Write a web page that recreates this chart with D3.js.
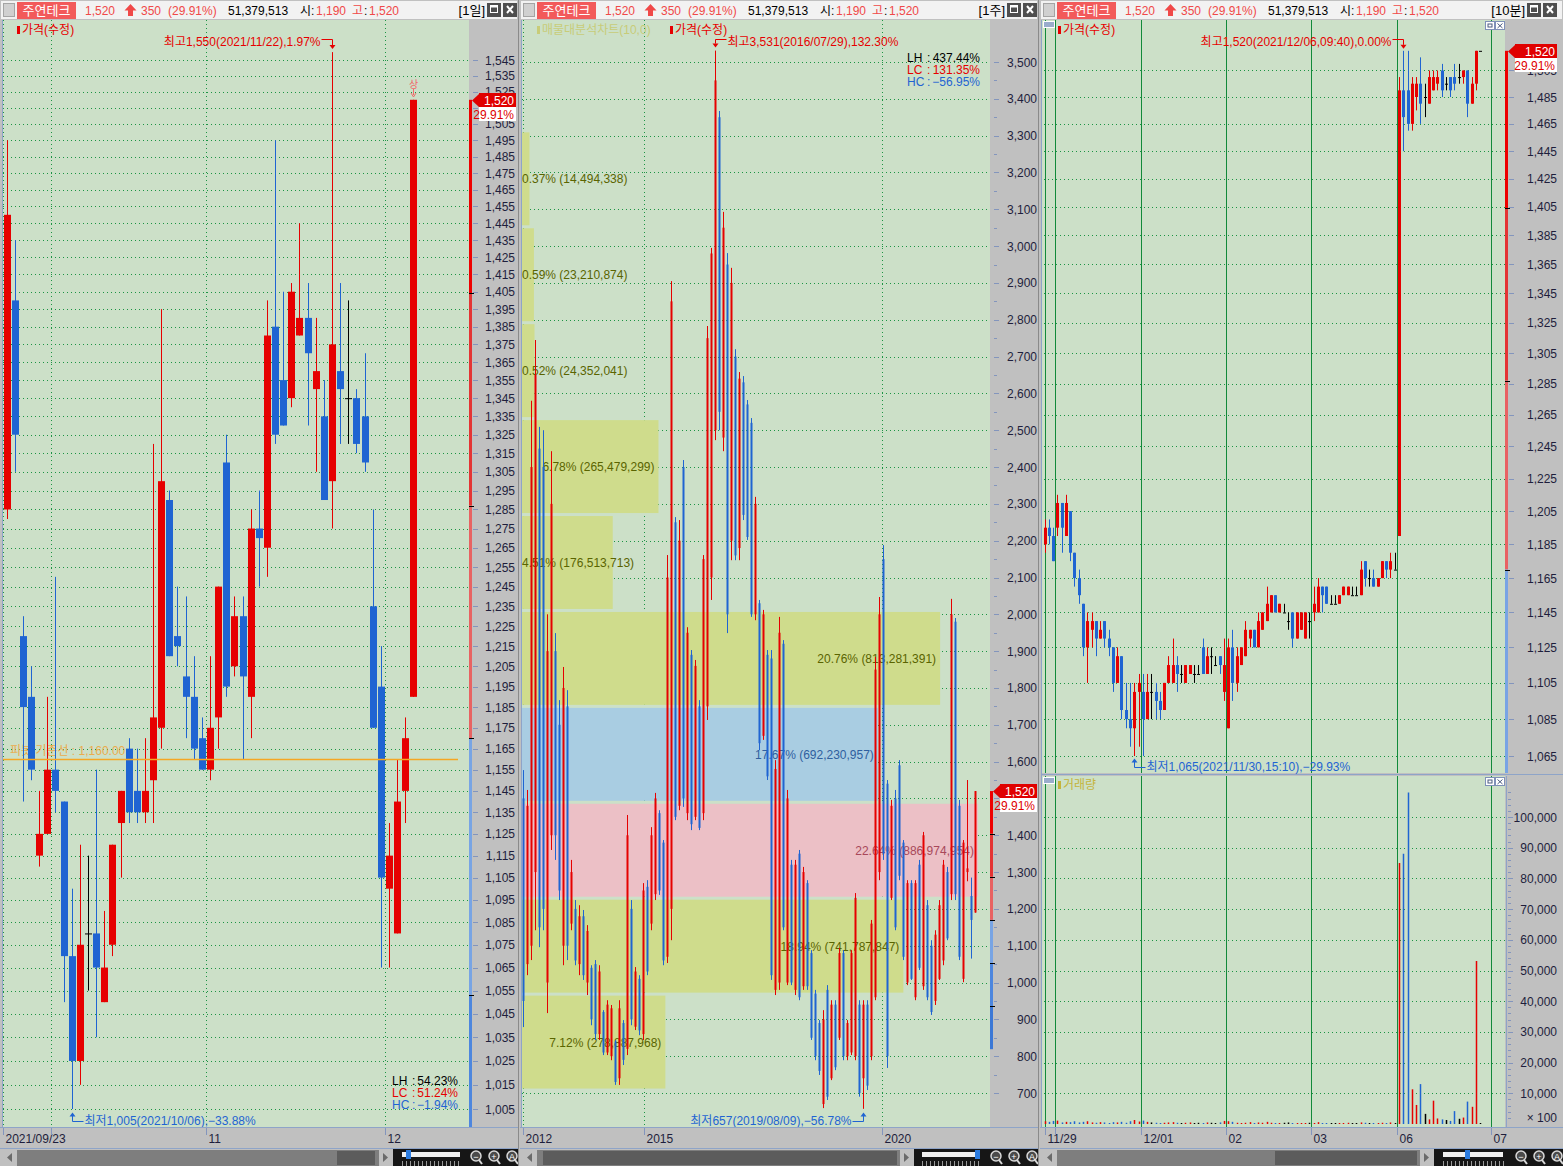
<!DOCTYPE html>
<html><head><meta charset="utf-8">
<script src="https://cdn.jsdelivr.net/npm/d3@7/dist/d3.min.js"></script>
<style>
html,body{margin:0;padding:0;background:#c0c0c0;}
svg{display:block;}
text{font-family:"Liberation Sans","Noto Sans CJK KR",sans-serif;font-size:12px;}
</style></head><body>
<svg id="chart" width="1563" height="1166"></svg>
<script>
// ================= DATA =================
const stockName = "주연테크";
const lastPrice = 1520;
const priceChange = 350;
const changePct = 29.91;
const tradeVolume = "51,379,513";
const dayOpen = 1190;
const dayHigh = 1520;
const prevClose = 1170;
const pivotLevel = 1160;

// ---- daily (1일) ----
const dailyDates = ["2021/09/23","2021/09/24","2021/09/27","2021/09/28","2021/09/29","2021/09/30","2021/10/01","2021/10/05","2021/10/06","2021/10/07","2021/10/08","2021/10/12","2021/10/13","2021/10/14","2021/10/15","2021/10/18","2021/10/19","2021/10/20","2021/10/21","2021/10/22","2021/10/25","2021/10/26","2021/10/27","2021/10/28","2021/10/29","2021/11/01","2021/11/02","2021/11/03","2021/11/04","2021/11/05","2021/11/08","2021/11/09","2021/11/10","2021/11/11","2021/11/12","2021/11/15","2021/11/16","2021/11/17","2021/11/18","2021/11/19","2021/11/22","2021/11/23","2021/11/24","2021/11/25","2021/11/26","2021/11/29","2021/11/30","2021/12/01","2021/12/02","2021/12/03","2021/12/06"];
const dailyOpen  = [1285,1400,1220,1190,1115,1125,1155,1140,1070,1025,1080,1080,1050,1075,1130,1165,1145,1135,1150,1175,1290,1220,1200,1190,1170,1155,1180,1310,1205,1230,1190,1275,1265,1385,1355,1345,1380,1390,1350,1335,1300,1360,1345,1345,1335,1235,1195,1100,1080,1145,1190];
const dailyHigh  = [1495,1435,1230,1205,1145,1190,1250,1140,1100,1120,1115,1155,1090,1120,1145,1170,1165,1170,1320,1395,1295,1245,1240,1210,1180,1210,1245,1325,1240,1240,1285,1295,1400,1495,1405,1410,1445,1410,1390,1355,1550,1410,1400,1350,1370,1285,1215,1130,1160,1180,1520];
const dailyLow   = [1280,1305,1140,1150,1110,1125,1135,1050,1005,1015,1055,1035,1050,1070,1105,1130,1130,1130,1130,1165,1210,1205,1170,1160,1155,1150,1165,1190,1200,1160,1170,1245,1250,1320,1330,1340,1380,1330,1305,1290,1275,1320,1320,1315,1305,1175,1065,1065,1080,1130,1190];
const dailyClose = [1450,1325,1185,1155,1125,1155,1145,1070,1025,1075,1080,1065,1065,1120,1145,1135,1135,1145,1180,1300,1210,1215,1190,1165,1155,1175,1245,1195,1230,1200,1275,1270,1380,1325,1330,1405,1390,1370,1360,1290,1375,1350,1345,1320,1310,1175,1105,1115,1140,1170,1520];
const dailyTicks = [1545,1535,1525,1515,1505,1495,1485,1475,1465,1455,1445,1435,1425,1415,1405,1395,1385,1375,1365,1355,1345,1335,1325,1315,1305,1295,1285,1275,1265,1255,1245,1235,1225,1215,1205,1195,1185,1175,1165,1155,1145,1135,1125,1115,1105,1095,1085,1075,1065,1055,1045,1035,1025,1015,1005];
const dailyMonthMarks = [{at:-0.5,label:"2021/09/23"},{at:5.5,label:""},{at:24.5,label:"11"},{at:46.5,label:"12"}];

// ---- weekly (1주) at ~4px steps ----
const weeklyOpen  = [1500,1050,1100,1300,2450,2400,1000,1400,1900,1700, 1100,1750,1160,1200,1050,1180,1000,1040,1050,860, 920,810,800,840,740,890,820,1200,880,1010, 860,1260,1160,1240,1460,1380,1070,1200,2250,1480, 2400,1460,1890,1450,1750,1460,1750,2100,2500,3350, 2480,2950,2200,2700,2180,2630,2570,2520,2000,2030, 1670,1890,1880,980,1000,1920,1000,1320,980,1350, 990,1270,1080,970,890,670,980,740,940,850, 1080,800,810,800,940,740,940,800,960,1300, 2150,1540,1230,1500,1590,1380,1000,1270,960,1320, 990,1210,1100,950,1010,1060,1300,1240,1980,1480, 1010,1300,1235,1190];
const weeklyHigh  = [1577,1523,2580,2745,2509,2500,2000,2443,1949,1767, 1857,1794,1333,1224,1210,1197,1156,1047,1061,1047, 925,952,939,844,952,898,1455,1224,1042,1020, 1270,1278,1422,1515,1468,1387,2161,2905,2264,2256, 2419,1965,1903,1876,1767,2161,2783,2995,3531,3367, 3093,2981,2941,2720,2658,2647,2582,2533,2319,2039, 2012,1903,1903,1604,1993,1930,1523,1333,1333,1360, 1314,1278,1088,980,898,925,993,952,952,1094, 1088,898,1088,1243,952,952,952,1170,1884,2047, 2188,1550,1496,1523,1604,1387,1278,1278,1278,1333, 1409,1224,1115,1142,1224,1333,1314,2042,1990,1496, 1387,1550,1285,1520];
const weeklyLow   = [879,1020,1061,1142,1096,1142,917,1360,1333,1224, 1047,1061,1142,1047,1020,1007,966,884,844,844, 803,803,789,722,722,776,803,884,871,857, 844,1020,1142,1224,1238,1047,1053,1115,1441,1468, 1477,1441,1414,1441,1414,1441,1713,2039,2473,2500, 2443,1949,2147,2147,2147,2256,2202,1993,1984,1631, 1659,1550,1007,966,980,1142,993,993,966,952, 980,980,844,789,749,659,681,735,762,844, 789,789,803,789,690,657,708,789,952,1278, 1333,768,1224,1142,1278,1061,993,1007,952,1034, 980,952,912,939,1007,1047,1115,1224,1224,1061, 1001,1275,1065,1190];
const weeklyClose = [950,1480,2400,2650,1150,1200,1900,2300,1400,1250, 1800,1100,1300,1060,1180,1020,1140,900,860,1030, 810,940,930,730,930,790,1400,900,1030,870, 1250,1030,1400,1500,1250,1060,2100,2850,1450,2200, 1500,1950,1430,1860,1420,2150,2750,2980,3450,2550, 3050,2000,2900,2160,2640,2270,2210,2000,2300,1650, 2000,1560,1020,1580,1950,1150,1500,1000,1320,960, 1300,990,850,800,760,900,690,940,770,1080, 800,890,1080,1230,700,940,720,1160,1850,2000, 1350,800,1480,1150,1290,1070,1270,1010,1270,1040, 1400,960,920,1130,1210,1320,1120,2000,1240,1070, 1380,1310,1170,1520];
const weeklyTicks = [3500,3400,3300,3200,3100,3000,2900,2800,2700,2600,2500,2400,2300,2200,2100,2000,1900,1800,1700,1600,1500,1400,1300,1200,1100,1000,900,800,700];
const weeklyYearMarks = [{at:0,label:"2012"},{at:30.3,label:"2015"},{at:89.8,label:"2020"}];
const weeklyHighDate = "2016/07/29";
const weeklyLowDate = "2019/08/09";

// ---- volume profile (매물대분석차트 10 bands, top to bottom) ----
const profileTopPrice = 3313;
const profileBottomPrice = 708;
const profileShare  = [0.37,0.59,0.52,6.78,4.51,20.76,17.67,22.64,18.94,7.12];
const profileVolume = [14494338,23210874,24352041,265479299,176513713,813281391,692230957,886974954,741787847,278887968];

const minuteOpen  = [1185,1195,1190, 1195,1210,1190,1205,1180,1165,1150,1125,1135,1140,1130,1140,1130,1125,1105,1120,1090,1085,1080,1100, 1100,1085,1100,1100,1095,1090,1105,1105,1115,1110,1105,1110,1110,1110,1125,1110,1120,1115,1120,1100, 1080,1125,1105,1115,1120,1130,1135,1125,1135,1140,1145,1155,1145,1145,1140,1145,1130,1135,1130,1140, 1145,1145,1160,1160,1150,1150,1150,1155,1155,1155,1155,1155,1175,1165,1165,1160,1165,1175,1170,1170, 1190,1490,1490,1465,1485,1495,1485,1480,1490,1495,1505,1495,1500,1500,1500,1500,1505,1480,1495,1520];
const minuteHigh  = [1200,1200,1195, 1215,1210,1215,1205,1180,1170,1150,1145,1145,1140,1140,1140,1135,1125,1125,1120,1105,1105,1105,1110, 1110,1110,1110,1105,1100,1105,1120,1130,1120,1115,1115,1115,1115,1115,1130,1125,1125,1120,1120,1130, 1130,1135,1125,1125,1140,1135,1135,1145,1145,1160,1155,1155,1150,1150,1145,1145,1145,1145,1145,1145, 1160,1165,1160,1160,1155,1155,1155,1160,1160,1160,1160,1175,1175,1170,1170,1165,1175,1175,1180,1180, 1500,1520,1520,1500,1500,1515,1495,1505,1505,1505,1510,1500,1500,1510,1510,1505,1505,1500,1520,1520];
const minuteLow   = [1180,1185,1175, 1190,1180,1190,1175,1160,1150,1120,1105,1125,1120,1130,1125,1120,1100,1105,1085,1080,1070,1065,1070, 1065,1085,1085,1085,1085,1090,1105,1105,1100,1105,1105,1110,1105,1110,1110,1110,1110,1115,1110,1095, 1080,1095,1100,1115,1120,1125,1125,1125,1135,1140,1145,1145,1145,1145,1135,1125,1130,1135,1130,1130, 1140,1145,1145,1150,1150,1150,1150,1155,1155,1155,1155,1155,1160,1160,1160,1160,1165,1165,1165,1170, 1190,1445,1460,1460,1475,1465,1470,1480,1490,1490,1485,1490,1485,1490,1495,1495,1470,1480,1490,1520];
const minuteClose = [1195,1190,1175, 1210,1195,1210,1180,1165,1155,1125,1140,1140,1130,1135,1130,1125,1105,1120,1090,1085,1080,1100,1105, 1085,1100,1100,1095,1090,1105,1115,1115,1110,1110,1115,1115,1110,1110,1110,1120,1120,1115,1115,1115, 1125,1105,1120,1125,1135,1135,1125,1140,1145,1150,1155,1145,1150,1145,1140,1130,1145,1145,1145,1140, 1150,1160,1155,1150,1150,1150,1155,1160,1160,1155,1155,1170,1165,1165,1160,1165,1175,1170,1175,1170, 1490,1470,1465,1495,1495,1480,1485,1500,1500,1500,1490,1495,1490,1495,1500,1505,1480,1495,1520,1520];
const minuteVolume = [900,700,1000, 1100,500,700,600,900,500,700,900,500,400,600,500,300,600,500,700,400,900,1300,800, 1100,700,500,400,300,400,500,600,400,300,400,500,300,400,300,500,400,300,500,1000, 900,700,400,300,400,600,300,500,400,700,400,300,300,400,500,300,300,200,300,400, 300,600,300,300,200,300,200,300,400,300,200,500,400,300,200,300,400,300,500,300, 85000,88000,108000,11300,6200,13000,3300,1500,7600,1800,1500,1300,1000,4200,1700,2100,7300,5600,53100,200];
const minuteTicks = [1505,1485,1465,1445,1425,1405,1385,1365,1345,1325,1305,1285,1265,1245,1225,1205,1185,1165,1145,1125,1105,1085,1065];
const volumeTicks = [10000,20000,30000,40000,50000,60000,70000,80000,90000,100000];
const minuteDayMarks = [{at:0,label:"11/29"},{at:2.5,label:""},{at:22.5,label:"12/01"},{at:42.5,label:"02"},{at:62.5,label:"03"},{at:82.5,label:"06"},{at:104.5,label:"07"}];
const minuteHighTime = "2021/12/06,09:40";
const minuteLowTime = "2021/11/30,15:10";

// ================= STYLE =================
const RED = "#e60000", BLUE = "#1f64d2", BLACK = "#000000";
const PLOT_BG = "#cce0c8", GRID = "#1c9444", AXIS_TXT = "#1e1e3c", TICK = "#8395bd", FRAME = "#8ea4c8";
const F = d3.format(","), P2 = d3.format(".2f");
const svg = d3.select("#chart");
svg.append("rect").attr("width",1563).attr("height",1166).attr("fill","#c0c0c0");

function cc(o,c){ return c>o ? RED : (c<o ? BLUE : BLACK); }

function hGrid(g, ys, x0, x1){
  g.selectAll(null).data(ys).join("line")
   .attr("x1",x0).attr("x2",x1)
   .attr("y1",d=>Math.round(d)+0.5).attr("y2",d=>Math.round(d)+0.5)
   .attr("stroke",GRID).attr("stroke-dasharray","1,3");
}
function vGrid(g, xs, y0, y1, solid){
  g.selectAll(null).data(xs).join("line")
   .attr("x1",d=>Math.round(d)+0.5).attr("x2",d=>Math.round(d)+0.5)
   .attr("y1",y0).attr("y2",y1)
   .attr("stroke", solid ? "#128a3a" : GRID)
   .attr("stroke-dasharray", solid ? null : "1,3");
}
function drawCandles(g, xs, ys, O, H, L, C, bw){
  const idx = d3.range(O.length);
  g.selectAll(null).data(idx).join("line")
   .attr("x1",i=>Math.round(xs(i))+0.5).attr("x2",i=>Math.round(xs(i))+0.5)
   .attr("y1",i=>ys(H[i])).attr("y2",i=>ys(L[i]))
   .attr("stroke",i=>cc(O[i],C[i])).attr("stroke-width",1);
  g.selectAll(null).data(idx).join("rect")
   .attr("x",i=>Math.round(xs(i))+0.5-bw/2).attr("width",bw)
   .attr("y",i=>ys(Math.max(O[i],C[i])))
   .attr("height",i=>Math.max(1, ys(Math.min(O[i],C[i]))-ys(Math.max(O[i],C[i]))))
   .attr("fill",i=>cc(O[i],C[i]));
}
function legend(g, x, y, label, color){
  g.append("rect").attr("x",x).attr("y",y-8).attr("width",3).attr("height",8).attr("fill",color);
  g.append("text").attr("x",x+5).attr("y",y).attr("fill",color).text(label);
}
function noteHigh(g, x, yText, yTip, text, plotR){
  const t = g.append("text").attr("y",yText).attr("fill",RED).text(text);
  const w = t.node().getComputedTextLength();
  const xr = Math.round(x)+0.5, yh = yText-6.5;
  const dir = (xr + 12 + w <= plotR) ? 1 : -1;
  if (dir>0) t.attr("x", xr+12); else t.attr("x", xr-12).attr("text-anchor","end");
  g.append("path").attr("d",`M${xr+dir*11},${yh}H${xr}V${yTip-3}`).attr("stroke",RED).attr("fill","none");
  g.append("path").attr("d",`M${xr-3},${yTip-3}L${xr+3},${yTip-3}L${xr},${yTip+1}Z`).attr("fill",RED);
}
function noteLow(g, x, yText, text, plotR){
  const t = g.append("text").attr("y",yText).attr("fill",BLUE).text(text);
  const w = t.node().getComputedTextLength();
  const xr = Math.round(x)+0.5, yh = yText-3.5;
  const dir = (xr + 12 + w <= plotR) ? 1 : -1;
  if (dir>0) t.attr("x", xr+12); else t.attr("x", xr-12).attr("text-anchor","end");
  g.append("path").attr("d",`M${xr+dir*11},${yh}H${xr}V${yh-6}`).attr("stroke",BLUE).attr("fill","none");
  g.append("path").attr("d",`M${xr-3},${yh-5}L${xr+3},${yh-5}L${xr},${yh-9}Z`).attr("fill",BLUE);
}
function ratios(g, xKey, xColon, xEnd, y0, hi, lo, last){
  const rows = [["LH", (hi/lo-1)*100, "#000"],["LC", (last/lo-1)*100, RED],["HC", (last/hi-1)*100, BLUE]];
  rows.forEach((r,k)=>{
    const y = y0 + k*12;
    g.append("text").attr("x",xKey).attr("y",y).attr("fill",r[2]).text(r[0]);
    g.append("text").attr("x",xColon).attr("y",y).attr("fill",r[2]).text(":");
    g.append("text").attr("x",xEnd).attr("y",y).attr("fill",r[2]).attr("text-anchor","end").text(P2(r[1])+"%");
  });
}
function limitBar(g, x, ys, yTop, yBot){
  const f = [1.3,1.2,1.1,1.0,0.9,0.8,0.7];
  const cols = ["#ee0000","#e43434","#e86262","#78a4e4","#4d86de","#3c78d6"];
  for (let k=0;k<6;k++){
    const a = Math.min(prevClose*f[k], lastPrice), b = prevClose*f[k+1];
    if (a<=b) continue;
    let y1 = Math.max(yTop, ys(a)), y2 = Math.min(yBot, ys(b));
    if (y2<=y1) continue;
    g.append("rect").attr("x",x-1).attr("y",y1).attr("width",3).attr("height",y2-y1).attr("fill",cols[k]);
  }
  for (let k=1;k<6;k++){
    const y = ys(prevClose*f[k]);
    if (y>yTop && y<yBot && prevClose*f[k] < lastPrice)
      g.append("line").attr("x1",x-1).attr("x2",x+4).attr("y1",Math.round(y)+0.5).attr("y2",Math.round(y)+0.5).attr("stroke","#000");
  }
}
function priceTag(g, xA, xR, y){
  const yy = Math.round(y);
  g.append("path").attr("d",`M${xA},${yy+0.5}L${xA+7},${yy-6}L${xA+7},${yy+7}Z`).attr("fill","#e00000");
  g.append("rect").attr("x",xA+7).attr("y",yy-7).attr("width",xR-xA-7).attr("height",14).attr("fill","#e00000");
  g.append("text").attr("x",xR-2).attr("y",yy+5).attr("text-anchor","end").attr("fill","#fff").text(F(lastPrice));
  g.append("rect").attr("x",xA+7).attr("y",yy+7).attr("width",xR-xA-7).attr("height",14).attr("fill","#fff");
  g.append("text").attr("x",xR-2).attr("y",yy+19).attr("text-anchor","end").attr("fill","#e00000").text(P2(changePct)+"%");
}
// tick labels; a label whose centre falls inside the price tag is hidden by it (as in the original)
function axisLabels(g, vals, ys, xTick, xRight, fmt, tagY){
  g.selectAll(null).data(vals).join("line")
   .attr("x1",xTick).attr("x2",xTick+5)
   .attr("y1",d=>Math.round(ys(d))+0.5).attr("y2",d=>Math.round(ys(d))+0.5).attr("stroke",TICK);
  const vis = vals.filter(d=> tagY===undefined || !(ys(d) > tagY-5 && ys(d) < tagY+19));
  g.selectAll(null).data(vis).join("text")
   .attr("x",xRight).attr("y",d=>ys(d)+4.5).attr("text-anchor","end").attr("fill",AXIS_TXT).text(fmt);
}
function header(x0, x1, period, periodEnd, btns){
  const g = svg.append("g");
  g.append("rect").attr("x",x0+1).attr("y",1).attr("width",x1-x0-2).attr("height",18).attr("fill","#f2f2f2");
  g.append("rect").attr("x",x0+3.5).attr("y",3.5).attr("width",11).attr("height",13).attr("fill","#d0d0d0").attr("stroke","#a4a4a4");
  g.append("rect").attr("x",x0+17).attr("y",2).attr("width",59).attr("height",17).attr("fill","#f25a5a");
  g.append("text").attr("x",x0+46.5).attr("y",15).attr("text-anchor","middle").attr("fill","#fff").style("font-size","13px").text(stockName);
  const hr = "#f04848";
  g.append("text").attr("x",x0+85).attr("y",15).attr("fill",hr).text(F(lastPrice));
  g.append("path").attr("d",`M${x0+130.5},4L${x0+136.5},10.5L${x0+133},10.5L${x0+133},16L${x0+128},16L${x0+128},10.5L${x0+124.5},10.5Z`).attr("fill",hr);
  g.append("text").attr("x",x0+141).attr("y",15).attr("fill",hr).text(priceChange);
  g.append("text").attr("x",x0+168).attr("y",15).attr("fill",hr).text("("+P2(changePct)+"%)");
  g.append("text").attr("x",x0+228).attr("y",15).attr("fill","#000").text(tradeVolume);
  g.append("text").attr("x",x0+300).attr("y",15).attr("fill","#000").text("시:");
  g.append("text").attr("x",x0+316).attr("y",15).attr("fill",hr).text(F(dayOpen));
  g.append("text").attr("x",x0+352).attr("y",15).attr("fill",hr).text("고");
  g.append("text").attr("x",x0+364).attr("y",15).attr("fill","#000").text(":");
  g.append("text").attr("x",x0+369).attr("y",15).attr("fill",hr).text(F(dayHigh));
  g.append("text").attr("x",periodEnd).attr("y",15).attr("text-anchor","end").attr("fill","#000").style("font-size","13px").text(period);
  btns.forEach((bx,k)=>{
    g.append("rect").attr("x",bx).attr("y",3).attr("width",14).attr("height",14).attr("fill","#4e4e4e");
    if (k===0){
      g.append("rect").attr("x",bx+3.5).attr("y",5.5).attr("width",7).attr("height",7).attr("fill","none").attr("stroke","#fff");
      g.append("line").attr("x1",bx+3).attr("x2",bx+11).attr("y1",6.5).attr("y2",6.5).attr("stroke","#fff").attr("stroke-width",2);
    } else {
      g.append("path").attr("d",`M${bx+4},${6}L${bx+10},${13}M${bx+10},${6}L${bx+4},${13}`).attr("stroke","#fff").attr("stroke-width",2);
    }
  });
}
function bottomAxis(x0, x1, marks, xs){
  const g = svg.append("g");
  g.append("line").attr("x1",x0).attr("x2",x1).attr("y1",1127.5).attr("y2",1127.5).attr("stroke",FRAME);
  marks.forEach(m=>{
    const x = Math.round(xs(m.at))+0.5;
    g.append("line").attr("x1",x).attr("x2",x).attr("y1",1128).attr("y2",1135).attr("stroke",TICK);
    if (m.label) g.append("text").attr("x",x+2).attr("y",1143).attr("fill",AXIS_TXT).text(m.label);
  });
}
function scrollRow(x0, x1, trackEnd, thumb0, thumb1, slider0, slider1, knob){
  const g = svg.append("g");
  g.append("line").attr("x1",x0).attr("x2",x1).attr("y1",1148.5).attr("y2",1148.5).attr("stroke",FRAME);
  g.append("path").attr("d",`M${x0+7},1157.5L${x0+12},1153L${x0+12},1162Z`).attr("fill","#6a6a6a");
  g.append("rect").attr("x",x0+17).attr("y",1150).attr("width",trackEnd-x0-17).attr("height",16).attr("fill","#7e7e7e");
  g.append("rect").attr("x",thumb0).attr("y",1151).attr("width",thumb1-thumb0).attr("height",14).attr("fill","#5c5c5c");
  g.append("path").attr("d",`M${trackEnd+9},1157.5L${trackEnd+4},1153L${trackEnd+4},1162Z`).attr("fill","#6a6a6a");
  g.append("rect").attr("x",trackEnd+14).attr("y",1149).attr("width",x1-trackEnd-14).attr("height",17).attr("fill","#161616");
  g.append("rect").attr("x",slider0).attr("y",1152).attr("width",slider1-slider0).attr("height",5).attr("fill","#f0f0f0");
  for (let x=slider0; x<=slider1; x+=4) g.append("line").attr("x1",x+0.5).attr("x2",x+0.5).attr("y1",1161).attr("y2",1166).attr("stroke","#9a9a9a");
  g.append("rect").attr("x",knob-2).attr("y",1150).attr("width",5).attr("height",9).attr("fill","#2c7ce0");
  [x1-42,x1-24,x1-6].forEach((mx,k)=>{
    g.append("circle").attr("cx",mx).attr("cy",1156).attr("r",5).attr("fill","#4a4a4a").attr("stroke","#d8d8d8").attr("stroke-width",1.5);
    g.append("line").attr("x1",mx+3).attr("x2",mx+6).attr("y1",1160).attr("y2",1164).attr("stroke","#d8d8d8").attr("stroke-width",2);
    g.append("text").attr("x",mx).attr("y",1159.5).attr("text-anchor","middle").attr("fill","#fff").style("font-size","9px").text(["−","+","A"][k]);
  });
}

// ================= LEFT: DAILY =================
(function(){
  const plotL=3, plotR=469, top=20, bot=1127;
  const ys = d3.scaleLog().domain([1545,1005]).range([60,1109]);
  const xs = d3.scaleLinear().domain([0,50]).range([6.7,413.3]);
  header(0, 518, "[1일]", 485, [487,503]);
  const g = svg.append("g");
  g.append("rect").attr("x",plotL).attr("y",top).attr("width",plotR-plotL).attr("height",bot-top).attr("fill",PLOT_BG);
  g.append("line").attr("x1",2.5).attr("x2",2.5).attr("y1",top).attr("y2",bot).attr("stroke",FRAME);
  hGrid(g, dailyTicks.map(ys), plotL, plotR);
  vGrid(g, dailyMonthMarks.map(m=>xs(m.at)), top, bot, false);
  g.append("text").attr("x",10).attr("y",755).attr("fill","#f2a030").attr("opacity",0.8)
    .text("피봇 기준선 : "+d3.format(",.2f")(pivotLevel));
  drawCandles(g, xs, ys, dailyOpen, dailyHigh, dailyLow, dailyClose, 7);
  const yp = Math.round(ys(pivotLevel))+0.5;
  g.append("line").attr("x1",plotL).attr("x2",458).attr("y1",yp).attr("y2",yp).attr("stroke","#f5a623").attr("stroke-width",1.5);
  const li = dailyClose.length-1, lx = Math.round(xs(li))+0.5;
  g.append("text").attr("x",lx).attr("y",88).attr("text-anchor","middle").attr("fill","#f06a6a").style("font-size","10px").text("상");
  g.append("path").attr("d",`M${lx},89V95M${lx-2.5},93L${lx},97L${lx+2.5},93`).attr("stroke","#f06a6a").attr("fill","none");
  legend(g, 17, 34, "가격(수정)", RED);
  const hiV = d3.max(dailyHigh), hiI = dailyHigh.indexOf(hiV);
  const loV = d3.min(dailyLow), loI = dailyLow.indexOf(loV);
  noteHigh(g, xs(hiI), 46, ys(hiV)-4, `최고${F(hiV)}(${dailyDates[hiI]}),${P2((hiV/lastPrice-1)*100)}%`, plotR);
  noteLow(g, xs(loI), 1125, `최저${F(loV)}(${dailyDates[loI]}),${P2((loV/lastPrice-1)*100)}%`, plotR);
  ratios(g, 392, 412, 458, 1085, hiV, loV, lastPrice);
  const a = svg.append("g");
  limitBar(a, 470, ys, top, bot);
  axisLabels(a, dailyTicks, ys, 473, 515, F, ys(lastPrice));
  priceTag(a, 472, 516, ys(lastPrice));
  bottomAxis(0, 518, dailyMonthMarks, xs);
  scrollRow(0, 518, 379, 337, 375, 402, 460, 408);
})();

// ================= MIDDLE: WEEKLY =================
(function(){
  const plotL=522, plotR=990, top=20, bot=1127;
  const ys = d3.scaleLinear().domain([3500,700]).range([62,1093]);
  const xs = d3.scaleLinear().domain([0,weeklyOpen.length-1]).range([523,975]);
  header(520, 1038, "[1주]", 1005, [1007,1023]);
  const g = svg.append("g");
  g.append("rect").attr("x",plotL).attr("y",top).attr("width",plotR-plotL).attr("height",bot-top).attr("fill",PLOT_BG);
  hGrid(g, weeklyTicks.map(ys), plotL, plotR);
  vGrid(g, weeklyYearMarks.map(m=>xs(m.at)), top, bot, false);
  const nb = profileShare.length;
  const edges = d3.range(nb+1).map(k=>profileTopPrice - k*(profileTopPrice-profileBottomPrice)/nb);
  const maxVol = d3.max(profileVolume);
  const len = d3.scaleLinear().domain([0,maxVol]).range([0,456]);
  const curBand = d3.range(nb).find(k=>lastPrice<=edges[k] && lastPrice>edges[k+1]);
  const maxBand = profileVolume.indexOf(maxVol);
  const bg = g.append("g"), tg = g.append("g");
  for (let k=0;k<nb;k++){
    const y1 = ys(edges[k])+1.5, y2 = ys(edges[k+1])-1.5;
    const fill = k===curBand ? "#a9cde2" : (k===maxBand ? "#ecc0c6" : "#cfdc8c");
    const tcol = k===curBand ? "#2f5f9f" : (k===maxBand ? "#a8485a" : "#5a6400");
    const w = len(profileVolume[k]);
    bg.append("rect").attr("x",plotL).attr("y",y1).attr("width",w).attr("height",y2-y1).attr("fill",fill);
    const t = tg.append("text").attr("y",(y1+y2)/2+4.5).attr("fill",tcol)
      .text(`${P2(profileShare[k])}% (${F(profileVolume[k])})`);
    const tw = t.node().getComputedTextLength();
    if (tw+8 <= w) t.attr("x",plotL+w-4).attr("text-anchor","end"); else t.attr("x",plotL);
  }
  drawCandles(g, xs, ys, weeklyOpen, weeklyHigh, weeklyLow, weeklyClose, 2);
  legend(g, 537, 34, "매물대분석차트(10,0)", "#c8cc78");
  legend(g, 670, 34, "가격(수정)", RED);
  const hiV = d3.max(weeklyHigh), hiI = weeklyHigh.indexOf(hiV);
  const loV = d3.min(weeklyLow), loI = weeklyLow.indexOf(loV);
  noteHigh(g, xs(hiI), 46, ys(hiV)-4, `최고${F(hiV)}(${weeklyHighDate}),${P2((hiV/lastPrice-1)*100)}%`, plotR);
  noteLow(g, xs(loI), 1125, `최저${F(loV)}(${weeklyLowDate}),${P2((loV/lastPrice-1)*100)}%`, plotR);
  ratios(g, 907, 927, 980, 62, hiV, loV, lastPrice);
  const a = svg.append("g");
  g.append("line").attr("x1",521.5).attr("x2",521.5).attr("y1",top).attr("y2",bot).attr("stroke",FRAME);
  limitBar(a, 991, ys, top, bot);
  const minor = weeklyTicks.slice(1).map(v=>v+50);
  a.selectAll(null).data(minor).join("line").attr("x1",994).attr("x2",997)
   .attr("y1",d=>Math.round(ys(d))+0.5).attr("y2",d=>Math.round(ys(d))+0.5).attr("stroke",TICK);
  axisLabels(a, weeklyTicks, ys, 994, 1037, F, ys(lastPrice));
  priceTag(a, 993, 1037, ys(lastPrice));
  bottomAxis(520, 1038, weeklyYearMarks, xs);
  scrollRow(520, 1038, 900, 543, 897, 922, 980, 977);
})();

// ================= RIGHT: 10-MINUTE =================
(function(){
  const plotL=1042, plotR=1505, top=20, pBot=773, vTop=776, bot=1127;
  const ys = d3.scaleLog().domain([1485,1065]).range([97,756]);
  const yv = d3.scaleLinear().domain([0,100000]).range([1124,817]);
  const xs = d3.scaleLinear().domain([0,minuteOpen.length-1]).range([1044.6,1480.1]);
  header(1040, 1563, "[10분]", 1525, [1527,1543]);
  const g = svg.append("g");
  g.append("rect").attr("x",plotL).attr("y",top).attr("width",plotR-plotL).attr("height",pBot-top).attr("fill",PLOT_BG);
  g.append("rect").attr("x",plotL).attr("y",vTop).attr("width",plotR-plotL).attr("height",bot-vTop).attr("fill",PLOT_BG);
  g.append("line").attr("x1",1041.5).attr("x2",1041.5).attr("y1",top).attr("y2",bot).attr("stroke",FRAME);
  g.append("line").attr("x1",plotL).attr("x2",1563).attr("y1",774.5).attr("y2",774.5).attr("stroke",FRAME);
  hGrid(g, minuteTicks.map(ys), 1044, plotR);
  hGrid(g, volumeTicks.map(yv), 1044, plotR);
  const dx = minuteDayMarks.map(m=>xs(m.at));
  vGrid(g, dx, top, pBot, true);
  vGrid(g, dx, vTop, bot, true);
  drawCandles(g, xs, ys, minuteOpen, minuteHigh, minuteLow, minuteClose, 3);
  g.selectAll(null).data(d3.range(minuteVolume.length)).join("line")
   .attr("x1",i=>Math.round(xs(i))+0.5).attr("x2",i=>Math.round(xs(i))+0.5)
   .attr("y1",yv(0)).attr("y2",i=>Math.min(yv(0)-1, yv(minuteVolume[i])))
   .attr("stroke",i=>cc(minuteOpen[i],minuteClose[i])).attr("stroke-width",1.5);
  legend(g, 1058, 34, "가격(수정)", RED);
  legend(g, 1058, 789, "거래량", "#c4b43c");
  [21,777].forEach(y=>{
    g.append("rect").attr("x",1043.5).attr("y",y+0.5).attr("width",11).attr("height",6).attr("fill","#9aaccc").attr("stroke","#fff");
    g.append("rect").attr("x",1485.5).attr("y",y+0.5).attr("width",9).attr("height",8).attr("fill","#fff").attr("stroke","#7f90b8");
    g.append("rect").attr("x",1488).attr("y",y+3).attr("width",4).attr("height",3).attr("fill","none").attr("stroke","#4a5a80");
    g.append("rect").attr("x",1495.5).attr("y",y+0.5).attr("width",9).attr("height",8).attr("fill","#fff").attr("stroke","#7f90b8");
    g.append("path").attr("d",`M1497.5,${y+2.5}L1502.5,${y+7}M1502.5,${y+2.5}L1497.5,${y+7}`).attr("stroke","#4a5a80");
  });
  const hiV = d3.max(minuteHigh), hiI = minuteHigh.indexOf(hiV);
  const loV = d3.min(minuteLow), loI = minuteLow.indexOf(loV);
  noteHigh(g, xs(hiI), 46, ys(hiV)-3, `최고${F(hiV)}(${minuteHighTime}),${P2((hiV/lastPrice-1)*100)}%`, plotR);
  noteLow(g, xs(loI), 771, `최저${F(loV)}(${minuteLowTime}),${P2((loV/lastPrice-1)*100)}%`, plotR);
  const a = svg.append("g");
  limitBar(a, 1506, ys, top, pBot);
  a.append("line").attr("x1",1506.5).attr("x2",1506.5).attr("y1",vTop).attr("y2",bot).attr("stroke",FRAME);
  axisLabels(a, minuteTicks, ys, 1509, 1557, F, ys(lastPrice));
  const vminor = d3.range(2000,110000,2000);
  a.selectAll(null).data(vminor).join("line").attr("x1",1508).attr("x2",1511)
   .attr("y1",d=>Math.round(yv(d))+0.5).attr("y2",d=>Math.round(yv(d))+0.5).attr("stroke",TICK);
  axisLabels(a, volumeTicks, yv, 1508, 1557, F);
  a.append("text").attr("x",1557).attr("y",1122).attr("text-anchor","end").attr("fill",AXIS_TXT).text("× 100");
  priceTag(a, 1508, 1557, ys(lastPrice));
  bottomAxis(1040, 1563, minuteDayMarks, xs);
  scrollRow(1040, 1563, 1420, 1275, 1417, 1443, 1503, 1467);
})();

svg.append("line").attr("x1",518.5).attr("x2",518.5).attr("y1",0).attr("y2",1166).attr("stroke","#8a8a8a");
svg.append("line").attr("x1",1038.5).attr("x2",1038.5).attr("y1",0).attr("y2",1166).attr("stroke","#8a8a8a");
</script></body></html>
